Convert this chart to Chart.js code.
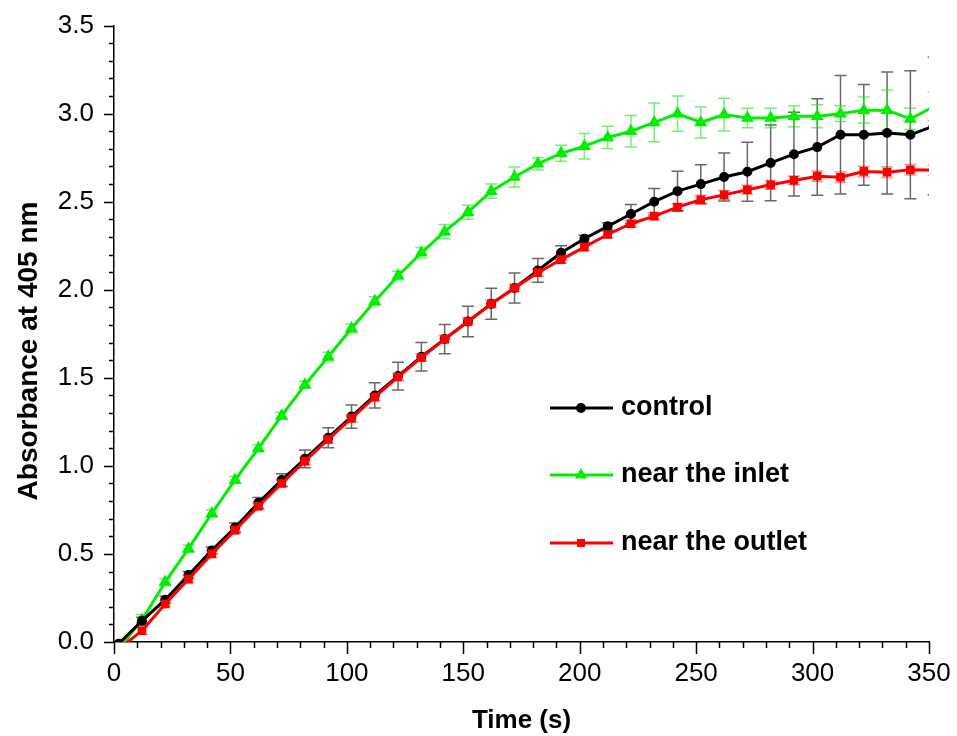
<!DOCTYPE html>
<html lang="en">
<head>
  <meta charset="UTF-8" />
  <title>Absorbance at 405 nm</title>
  <script src="https://cdn.jsdelivr.net/npm/chart.js"></script>
  <style>
    body {
      margin: 0;
      background: #fff;
    }
    #wrap {
      width: 957px;
      height: 736px;
    }
  </style>
</head>
<body>

  <div id="wrap"><canvas id="absChart"></canvas></div>

  <script>
    // time points (s)
    const time = [2, 12, 22, 32, 42, 52, 62, 72, 82, 92, 102, 112, 122, 132, 142, 152, 162, 172,
      182, 192, 202, 212, 222, 232, 242, 252, 262, 272, 282, 292, 302, 312, 322, 332, 342, 352];

    const control = [-0.01, 0.12, 0.24, 0.38, 0.52, 0.65, 0.79, 0.92, 1.04, 1.16, 1.28, 1.40, 1.51, 1.62, 1.72, 1.82, 1.92, 2.01,
      2.11, 2.21, 2.29, 2.36, 2.43, 2.50, 2.56, 2.60, 2.64, 2.67, 2.72, 2.77, 2.81, 2.88, 2.88, 2.89, 2.88, 2.93];
    const controlErr = [0.01, 0.02, 0.02, 0.02, 0.02, 0.025, 0.03, 0.035, 0.05, 0.057, 0.066, 0.072, 0.079, 0.081, 0.083, 0.087, 0.088, 0.085,
      0.068, 0.04, 0.02, 0.02, 0.054, 0.075, 0.113, 0.11, 0.136, 0.167, 0.215, 0.238, 0.274, 0.336, 0.286, 0.346, 0.363, 0.39];

    const inlet = [-0.04, 0.125, 0.34, 0.53, 0.73, 0.92, 1.10, 1.285, 1.46, 1.62, 1.78, 1.935, 2.08, 2.21, 2.33, 2.44, 2.56, 2.64,
      2.715, 2.775, 2.815, 2.865, 2.90, 2.95, 3.00, 2.95, 2.995, 2.975, 2.975, 2.985, 2.985, 3.00, 3.02, 3.02, 2.97, 3.04];
    const inletErr = [0.01, 0.03, 0.02, 0.02, 0.02, 0.02, 0.02, 0.02, 0.02, 0.025, 0.025, 0.025, 0.025, 0.03, 0.04, 0.04, 0.04, 0.057,
      0.035, 0.045, 0.072, 0.063, 0.09, 0.11, 0.10, 0.088, 0.093, 0.055, 0.055, 0.06, 0.065, 0.045, 0.075, 0.115, 0.06, 0.08];

    const outlet = [-0.04, 0.064, 0.216, 0.357, 0.50, 0.635, 0.771, 0.90, 1.027, 1.15, 1.27, 1.39, 1.505, 1.615, 1.72, 1.82, 1.92, 2.01,
      2.097, 2.171, 2.242, 2.314, 2.375, 2.418, 2.469, 2.511, 2.539, 2.568, 2.596, 2.621, 2.645, 2.639, 2.672, 2.668, 2.681, 2.68];
    const outletErr = [0.01, 0.02, 0.02, 0.02, 0.02, 0.02, 0.02, 0.02, 0.02, 0.02, 0.02, 0.02, 0.02, 0.02, 0.02, 0.02, 0.02, 0.02,
      0.02, 0.02, 0.02, 0.02, 0.02, 0.02, 0.02, 0.025, 0.025, 0.025, 0.025, 0.025, 0.03, 0.03, 0.03, 0.03, 0.03, 0.03];

    const seriesNames = ['control', 'near the inlet', 'near the outlet'];
    const yTitle = 'Absorbance at 405 nm';

    const FONT = "'Liberation Sans', Arial, sans-serif";

    function toPoints(vals) {
      return time.map((t, i) => ({ x: t, y: vals[i] }));
    }

    // vertical error bars with caps, drawn through the chart scales
    const errorBars = {
      id: 'errorBars',
      beforeDatasetsDraw(chart) {
        const { ctx, chartArea, scales } = chart;
        ctx.save();
        ctx.beginPath();
        ctx.rect(chartArea.left, chartArea.top, chartArea.right - chartArea.left, chartArea.bottom - chartArea.top);
        ctx.clip();
        chart.data.datasets.forEach(ds => {
          ctx.strokeStyle = ds.errColor;
          ctx.lineWidth = 1.5;
          ds.data.forEach((p, i) => {
            const e = ds.err[i];
            const px = scales.x.getPixelForValue(p.x);
            const yTop = scales.y.getPixelForValue(p.y + e);
            const yBot = scales.y.getPixelForValue(p.y - e);
            ctx.beginPath();
            ctx.moveTo(px, yTop);
            ctx.lineTo(px, yBot);
            ctx.moveTo(px - 6, yTop);
            ctx.lineTo(px + 6, yTop);
            ctx.moveTo(px - 6, yBot);
            ctx.lineTo(px + 6, yBot);
            ctx.stroke();
          });
        });
        ctx.restore();
      }
    };

    // outward major + minor tick marks, and the y title
    const axisTicks = {
      id: 'axisTicks',
      afterDraw(chart) {
        const { ctx, chartArea, scales } = chart;
        ctx.save();
        ctx.strokeStyle = '#000';
        ctx.lineWidth = 1.5;
        ctx.beginPath();
        for (let v = 0; v <= 350; v += 10) {
          const px = Math.round(scales.x.getPixelForValue(v)) + 0.5;
          const len = v % 50 === 0 ? 12 : 6;
          ctx.moveTo(px, chartArea.bottom);
          ctx.lineTo(px, chartArea.bottom + len);
        }
        for (let k = 0; k <= 35; k++) {
          const py = Math.round(scales.y.getPixelForValue(k / 10)) + 0.5;
          const len = k % 5 === 0 ? 10 : 5;
          ctx.moveTo(chartArea.left, py);
          ctx.lineTo(chartArea.left - len, py);
        }
        ctx.stroke();

        // y title sits a bit below the middle of the axis in the original
        ctx.translate(29, 351);
        ctx.rotate(-Math.PI / 2);
        ctx.fillStyle = '#000';
        ctx.font = 'bold 28px ' + FONT;
        ctx.textAlign = 'center';
        ctx.textBaseline = 'middle';
        ctx.fillText(yTitle, 0, 0);
        ctx.restore();
      }
    };

    // legend inside the plot, lower right
    const innerLegend = {
      id: 'innerLegend',
      afterDraw(chart) {
        const { ctx, chartArea } = chart;
        const x0 = chartArea.left + 436;
        const rows = [408, 475, 543];
        const order = [1, 2, 0];
        ctx.save();
        order.forEach((di, r) => {
          const ds = chart.data.datasets[di];
          const y = rows[r];
          ctx.strokeStyle = ds.borderColor;
          ctx.lineWidth = 3;
          ctx.beginPath();
          ctx.moveTo(x0, y);
          ctx.lineTo(x0 + 63, y);
          ctx.stroke();
          Chart.helpers.drawPoint(ctx, {
            pointStyle: ds.pointStyle,
            radius: ds.pointStyle === 'triangle' ? 4 : 3.5,
            borderWidth: 1
          }, x0 + 31, y);
          ctx.fillStyle = ds.borderColor;
          ctx.fill();
          ctx.fillStyle = '#000';
          ctx.font = 'bold 27px ' + FONT;
          ctx.textBaseline = 'middle';
          ctx.textAlign = 'left';
          ctx.fillText(ds.label, x0 + 71, y);
        });
        ctx.restore();
      }
    };

    const ctx = document.getElementById('absChart').getContext('2d');

    new Chart(ctx, {
      type: 'line',
      data: {
        datasets: [
          {
            label: seriesNames[2],
            data: toPoints(outlet),
            err: outletErr,
            errColor: 'rgba(255, 60, 60, 0.55)',
            borderColor: '#ff0000',
            backgroundColor: '#ff0000',
            pointStyle: 'rect',
            pointRadius: 4,
            borderWidth: 3,
            order: 0
          },
          {
            label: seriesNames[0],
            data: toPoints(control),
            err: controlErr,
            errColor: 'rgba(40, 40, 40, 0.7)',
            borderColor: '#000000',
            backgroundColor: '#000000',
            pointStyle: 'circle',
            pointRadius: 3.5,
            borderWidth: 3,
            order: 1
          },
          {
            label: seriesNames[1],
            data: toPoints(inlet),
            err: inletErr,
            errColor: 'rgba(20, 230, 20, 0.6)',
            borderColor: '#00ee00',
            backgroundColor: '#00ee00',
            pointStyle: 'triangle',
            pointRadius: 4.5,
            borderWidth: 3,
            order: 2
          }
        ]
      },
      options: {
        responsive: true,
        maintainAspectRatio: false,
        animation: false,
        layout: {
          padding: { top: 25, right: 28, bottom: 0, left: 0 }
        },
        elements: {
          line: { tension: 0 },
          point: { borderWidth: 1, hoverRadius: 5 }
        },
        plugins: {
          legend: { display: false },
          tooltip: { enabled: false }
        },
        scales: {
          x: {
            type: 'linear',
            min: 0,
            max: 350,
            afterFit(scale) { scale.height = 94; },
            border: { display: true, color: '#000', width: 1.5 },
            grid: { drawOnChartArea: false, drawTicks: true, tickLength: 12, color: 'transparent' },
            ticks: {
              stepSize: 50,
              padding: 4,
              color: '#000',
              font: { family: FONT, size: 26 }
            },
            title: {
              display: true,
              text: 'Time (s)',
              color: '#000',
              font: { family: FONT, size: 26, weight: 'bold' },
              padding: { top: 0, bottom: 0 }
            }
          },
          y: {
            min: 0,
            max: 3.5,
            afterFit(scale) { scale.width = 114; },
            border: { display: true, color: '#000', width: 1.5 },
            grid: { drawOnChartArea: false, drawTicks: true, tickLength: 10, color: 'transparent' },
            ticks: {
              stepSize: 0.5,
              padding: 10,
              color: '#000',
              font: { family: FONT, size: 26 },
              callback: v => v.toFixed(1)
            },
            title: { display: false }
          }
        }
      },
      plugins: [errorBars, axisTicks, innerLegend]
    });
  </script>

</body>
</html>
